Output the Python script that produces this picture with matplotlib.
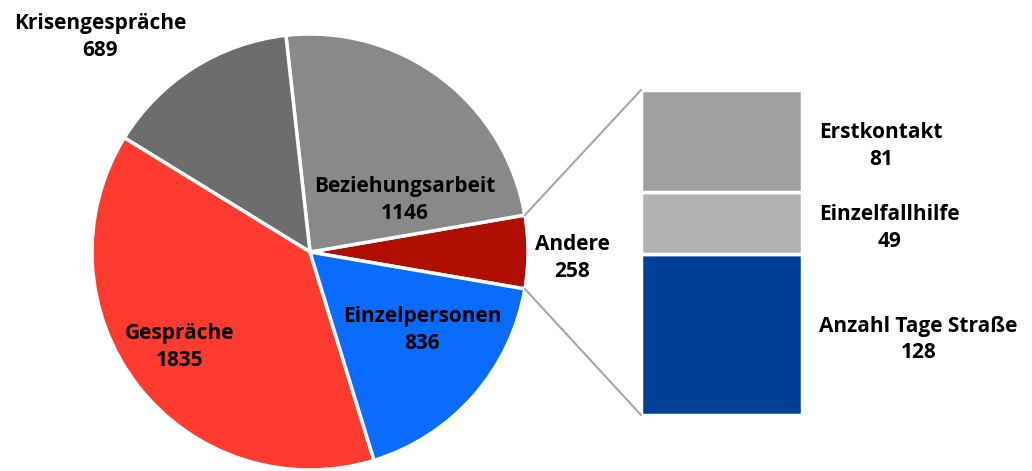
import numpy as np
import matplotlib.pyplot as plt
from matplotlib.patches import ConnectionPatch

# Daten
pie_labels = ['Andere', 'Beziehungsarbeit', 'Krisengespräche', 'Gespräche', 'Einzelpersonen']
pie_values = [258, 1146, 689, 1835, 836]
pie_colors = ['#B00E00', '#898989', '#6D6D6D', '#FF3B2F', '#0A6CFF']

bar_labels = ['Anzahl Tage Straße', 'Einzelfallhilfe', 'Erstkontakt']
bar_values = [128, 49, 81]
bar_colors = ['#003F98', '#B3B3B3', '#A0A0A0']

plt.rcParams['font.family'] = ['Open Sans', 'DejaVu Sans']
plt.rcParams['font.weight'] = 'bold'

W, H = 1032, 471
fig = plt.figure(figsize=(W / 100, H / 100), dpi=100)


def px(x, y):
    return x / W, 1 - y / H


# Kreisdiagramm
cx, cy, r = 310, 252, 218
ax_pie = fig.add_axes([(cx - r) / W, (H - cy - r) / H, 2 * r / W, 2 * r / H])
start = -pie_values[0] / sum(pie_values) * 360 / 2
wedges, _ = ax_pie.pie(pie_values, colors=pie_colors, startangle=start,
                       counterclock=True,
                       wedgeprops=dict(edgecolor='white', linewidth=2.5))
ax_pie.set_xlim(-1, 1)
ax_pie.set_ylim(-1, 1)
ax_pie.set_aspect('auto')
ax_pie.axis('off')

# Balken
bx0, bx1, by0, by1 = 641, 802, 90, 415
ax_bar = fig.add_axes([bx0 / W, (H - by1) / H, (bx1 - bx0) / W, (by1 - by0) / H])
bottom = 0
bar_centers = []
for v, c in zip(bar_values, bar_colors):
    ax_bar.bar(0.5, v, width=1, bottom=bottom, color=c, edgecolor='white', linewidth=2.5)
    bar_centers.append(bottom + v / 2)
    bottom += v
ax_bar.set_xlim(0, 1)
ax_bar.set_ylim(0, sum(bar_values))
ax_bar.axis('off')

# Verbindungslinien
w0 = wedges[0]
for ang, yb in [(w0.theta2, sum(bar_values)), (w0.theta1, 0)]:
    xa, ya = np.cos(np.radians(ang)), np.sin(np.radians(ang))
    con = ConnectionPatch(xyA=(xa, ya), coordsA=ax_pie.transData,
                          xyB=(0, yb), coordsB=ax_bar.transData,
                          color='#A6A6A6', linewidth=1.5)
    fig.add_artist(con)

# Beschriftungen Kreis
fs = 15
pie_text_pos = {
    'Andere': (572, 258),
    'Beziehungsarbeit': (405, 200),
    'Krisengespräche': (100, 37),
    'Gespräche': (180, 347),
    'Einzelpersonen': (422, 330),
}
for lab, v in zip(pie_labels, pie_values):
    x, y = px(*pie_text_pos[lab])
    fig.text(x, y, f'{lab}\n{v}', ha='center', va='center', fontsize=fs,
             fontweight='bold', linespacing=1.35, color='black')

# Beschriftungen Balken
for lab, v, yc in zip(bar_labels, bar_values, bar_centers):
    ydisp = by1 - yc / sum(bar_values) * (by1 - by0)
    x, y = px(819, ydisp + 5)
    fig.text(x, y, f'{lab}\n{v}', ha='left', va='center', multialignment='center',
             fontsize=fs, fontweight='bold', linespacing=1.35, color='black')

fig.savefig('out.png', dpi=100)
